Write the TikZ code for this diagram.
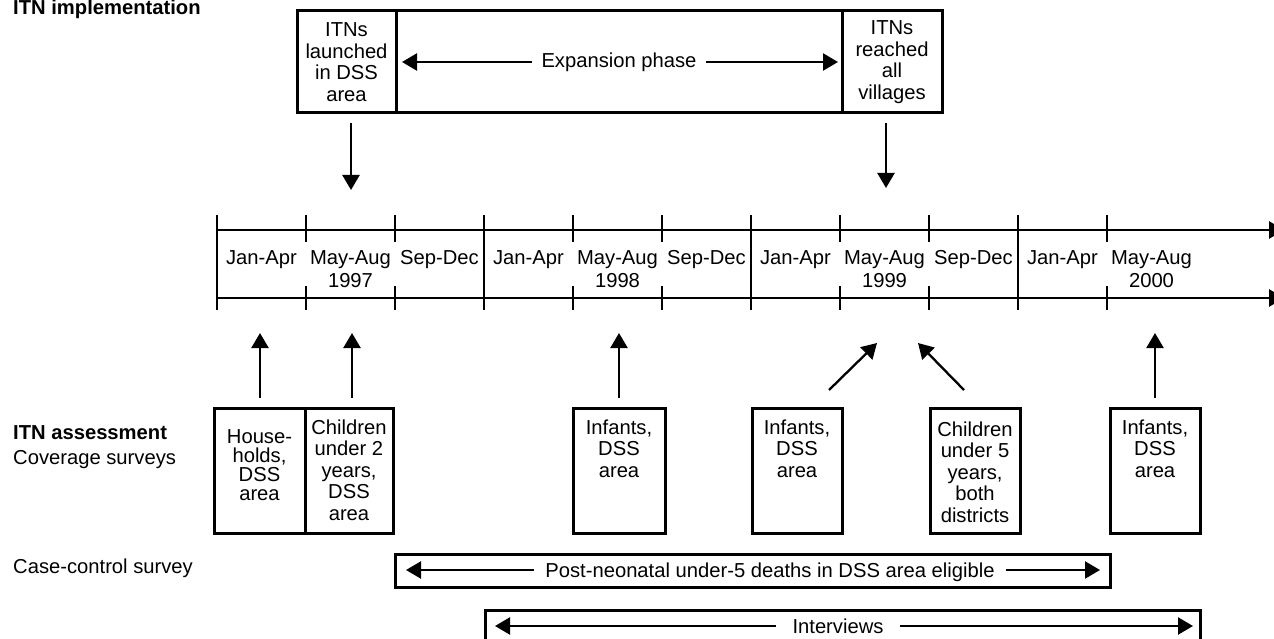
\documentclass[tikz,border=0pt]{standalone}
\usepackage{fontspec}
\setmainfont{Liberation Sans}
\usetikzlibrary{arrows.meta}
\begin{document}
\begin{tikzpicture}[x=1pt,y=-1pt,
  every node/.style={font=\fontsize{20.2}{21.5}\selectfont},
  box/.style={draw, line width=3pt, inner sep=0pt},
  txt/.style={align=center, inner sep=0pt},
  arr/.style={line width=2.3pt, -{Triangle[width=17pt,length=15pt]}},
  tl/.style={line width=2.8pt},
  tlarr/.style={line width=2.8pt, -{Triangle[width=17pt,length=15pt]}},
  lbl/.style={anchor=base west, inner sep=0pt}]
\useasboundingbox[fill=white] (0,0) rectangle (1274,639);

% left labels
\node[lbl, font=\fontsize{20.2}{21.5}\selectfont\bfseries] (impl) at (13,15) {ITN implementation};
\node[lbl, font=\fontsize{20.2}{21.5}\selectfont\bfseries] (assess) at (13,439) {ITN assessment};
\node[lbl] (cov) at (13,464) {Coverage surveys};
\node[lbl] (cc) at (13,573) {Case-control survey};

% top boxes
\node[box, txt, minimum width=99pt, minimum height=102pt] (launch) at (346.5,62) {ITNs\\launched\\in DSS\\area};
\node[box, minimum width=446pt, minimum height=102pt] (expan) at (619,62) {};
\node[box, txt, minimum width=100pt, minimum height=102pt] (reach) at (892,62) {ITNs\\reached\\all\\villages};
\node[inner xsep=9pt, inner ysep=0pt, anchor=base] (expT) at (619,68) {Expansion phase};
\coordinate (expL) at (402,62);
\coordinate (expR) at (838,62);
\draw[arr] (expT.west |- expL) -- (expL);
\draw[arr] (expT.east |- expR) -- (expR);

% down arrows
\coordinate (d1s) at (351,123); \coordinate (d1e) at (351,190);
\coordinate (d2s) at (886,123); \coordinate (d2e) at (886,188);
\draw[arr] (d1s) -- (d1e);
\draw[arr] (d2s) -- (d2e);

% timeline
\coordinate (tlA) at (217,230); \coordinate (tlAe) at (1284,230);
\coordinate (tlB) at (217,298); \coordinate (tlBe) at (1284,298);
\draw[tlarr] (tlA) -- (tlAe);
\draw[tlarr] (tlB) -- (tlBe);
\foreach \x in {217,484,751,1018} \draw[tl] (\x,215) -- (\x,310);
\foreach \x in {306,395,573,662,840,929,1107} {
  \draw[tl] (\x,215) -- (\x,242);
  \draw[tl] (\x,286) -- (\x,310);
}
\node[anchor=base] (m1) at (261.5,264) {Jan-Apr};
\node[anchor=base] (m2) at (350.5,264) {May-Aug};
\node[anchor=base] (y97) at (350.5,287) {1997};
\node[anchor=base] (m3) at (439.5,264) {Sep-Dec};
\node[anchor=base] (m4) at (528.5,264) {Jan-Apr};
\node[anchor=base] (m5) at (617.5,264) {May-Aug};
\node[anchor=base] (y98) at (617.5,287) {1998};
\node[anchor=base] (m6) at (706.5,264) {Sep-Dec};
\node[anchor=base] (m7) at (795.5,264) {Jan-Apr};
\node[anchor=base] (m8) at (884.5,264) {May-Aug};
\node[anchor=base] (y99) at (884.5,287) {1999};
\node[anchor=base] (m9) at (973.5,264) {Sep-Dec};
\node[anchor=base] (m10) at (1062.5,264) {Jan-Apr};
\node[anchor=base] (m11) at (1151.5,264) {May-Aug};
\node[anchor=base] (y00) at (1151.5,287) {2000};

% bottom boxes
\node[box, minimum width=91pt, minimum height=125pt] (hh) at (259.5,470.5) {};
\node[box, minimum width=88pt, minimum height=125pt] (c2) at (349,470.5) {};
\node[box, minimum width=92pt, minimum height=125pt] (inf1) at (619,470.5) {};
\node[box, minimum width=90pt, minimum height=125pt] (inf2) at (797,470.5) {};
\node[box, minimum width=90pt, minimum height=125pt] (c5) at (975,470.5) {};
\node[box, minimum width=90pt, minimum height=125pt] (inf3) at (1155,470.5) {};

\node[txt, anchor=north, font=\fontsize{20.2}{19}\selectfont] (hhT) at ([yshift=-23pt]hh.north) {House-\\holds,\\DSS\\area};
\node[txt, anchor=north] (c2T) at ([yshift=-13pt]c2.north) {Children\\under 2\\years,\\DSS\\area};
\node[txt, anchor=north] (inf1T) at ([yshift=-13pt]inf1.north) {Infants,\\DSS\\area};
\node[txt, anchor=north] (inf2T) at ([yshift=-13pt]inf2.north) {Infants,\\DSS\\area};
\node[txt, anchor=north] (c5T) at ([yshift=-15pt]c5.north) {Children\\under 5\\years,\\both\\districts};
\node[txt, anchor=north] (inf3T) at ([yshift=-13pt]inf3.north) {Infants,\\DSS\\area};

% up arrows
\coordinate (u1) at (260,333); \coordinate (u2) at (352,333);
\coordinate (u3) at (619,333); \coordinate (u6) at (1155,333);
\coordinate (u4) at (877,343); \coordinate (u5) at (918,343);
\coordinate (s4) at (829,390); \coordinate (s5) at (964,390);
\draw[arr] ([yshift=9pt]hh.north -| u1) -- (u1);
\draw[arr] ([yshift=9pt]c2.north -| u2) -- (u2);
\draw[arr] ([yshift=9pt]inf1.north -| u3) -- (u3);
\draw[arr] ([yshift=9pt]inf3.north -| u6) -- (u6);
\draw[arr] (s4) -- (u4);
\draw[arr] (s5) -- (u5);

% case-control and interviews
\node[box, minimum width=715pt, minimum height=33pt] (ccbox) at (752.5,570.5) {};
\node[inner xsep=11pt, inner ysep=0pt, anchor=base] (ccT) at (770,577) {Post-neonatal under-5 deaths in DSS area eligible};
\coordinate (ccL) at (406,570); \coordinate (ccR) at (1100,570);
\draw[arr] (ccT.west |- ccL) -- (ccL);
\draw[arr] (ccT.east |- ccR) -- (ccR);

\node[box, minimum width=715pt, minimum height=40pt] (ivbox) at (842.5,630) {};
\node[inner xsep=16pt, inner ysep=0pt, anchor=base] (ivT) at (838,633) {Interviews};
\coordinate (ivL) at (495,626); \coordinate (ivR) at (1193,626);
\draw[arr] (ivT.west |- ivL) -- (ivL);
\draw[arr] (ivT.east |- ivR) -- (ivR);
\end{tikzpicture}
\end{document}
